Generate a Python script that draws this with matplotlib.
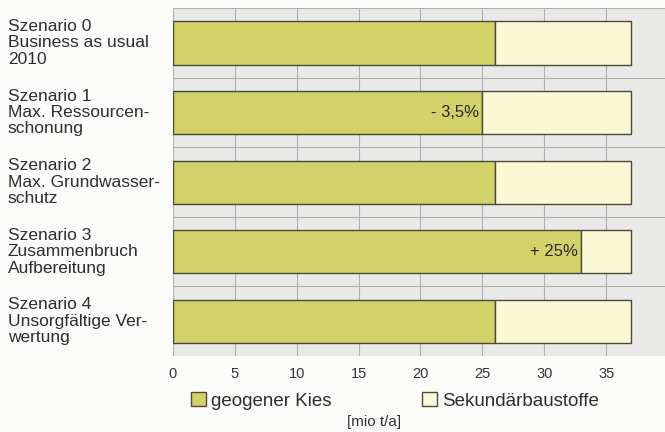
import matplotlib.pyplot as plt
from matplotlib.patches import Patch

plt.rcParams['font.family'] = ['Liberation Sans', 'DejaVu Sans']

# Data (mio t/a)
scenarios = [
    "Szenario 0\nBusiness as usual\n2010",
    "Szenario 1\nMax. Ressourcen-\nschonung",
    "Szenario 2\nMax. Grundwasser-\nschutz",
    "Szenario 3\nZusammenbruch\nAufbereitung",
    "Szenario 4\nUnsorgfältige Ver-\nwertung",
]
geogen = [26, 25, 26, 33, 26]
total = [37, 37, 37, 37, 37]
sekundaer = [t - g for t, g in zip(total, geogen)]
change_labels = ["", "- 3,5%", "", "+ 25%", ""]

c_geo = "#d3d26a"
c_sek = "#fcf8d6"
edge = "#4a4a3a"

fig = plt.figure(figsize=(6.65, 4.32), dpi=100, facecolor="#fbfbfa")
ax = fig.add_axes([0.26, 0.176, 0.74, 0.805])
ax.set_facecolor("#e9e9e7")

ypos = list(range(len(scenarios)))
ax.barh(ypos, geogen, height=0.62, color=c_geo, edgecolor=edge, linewidth=1.0, zorder=3)
ax.barh(ypos, sekundaer, left=geogen, height=0.62, color=c_sek, edgecolor=edge,
        linewidth=1.0, zorder=3)

# percentage change labels inside the geogenic part
for y, g, lab in zip(ypos, geogen, change_labels):
    if lab:
        ax.text(g - 0.3, y, lab, ha="right", va="center", fontsize=12,
                color="#2a2a2a", zorder=4)

ax.set_xlim(0, 39.75)
ax.set_ylim(len(scenarios) - 0.5, -0.5)
ax.set_xticks([0, 5, 10, 15, 20, 25, 30, 35])
ax.set_yticks([y + 0.5 for y in ypos[:-1]], minor=True)
ax.set_yticks([])
ax.grid(axis="x", color="#b0b0b0", linewidth=0.8, zorder=1)
ax.grid(axis="y", which="minor", color="#b0b0b0", linewidth=0.8, zorder=1)
ax.tick_params(axis="x", length=0, pad=8, labelsize=10.5, labelcolor="#333333")
ax.tick_params(axis="y", which="both", length=0)
for s in ax.spines.values():
    s.set_visible(False)
ax.axhline(-0.5, color="#b0b0b0", linewidth=0.8, zorder=1)
ax.axvline(0, color="#c8c8c8", linewidth=0.8, zorder=1)

# scenario labels, left-aligned at the figure edge
for y, lab in zip(ypos, scenarios):
    ax.annotate(lab, xy=(0.012, y), xycoords=("figure fraction", "data"),
                ha="left", va="center", fontsize=12.5, color="#2e2e2e",
                linespacing=1.12, annotation_clip=False)

handles = [Patch(facecolor=c_geo, edgecolor=edge, label="geogener Kies"),
           Patch(facecolor=c_sek, edgecolor=edge, label="Sekundärbaustoffe")]
fig.legend(handles=handles, loc="center", bbox_to_anchor=(0.594, 0.072), ncol=2,
           frameon=False, fontsize=13.5, handlelength=0.8, handleheight=0.8,
           handletextpad=0.3, columnspacing=4.8, labelcolor="#2e2e2e")

fig.text(0.563, 0.022, "[mio t/a]", ha="center", va="center", fontsize=11,
         color="#333333")

fig.savefig("out.png", dpi=100, facecolor=fig.get_facecolor())
